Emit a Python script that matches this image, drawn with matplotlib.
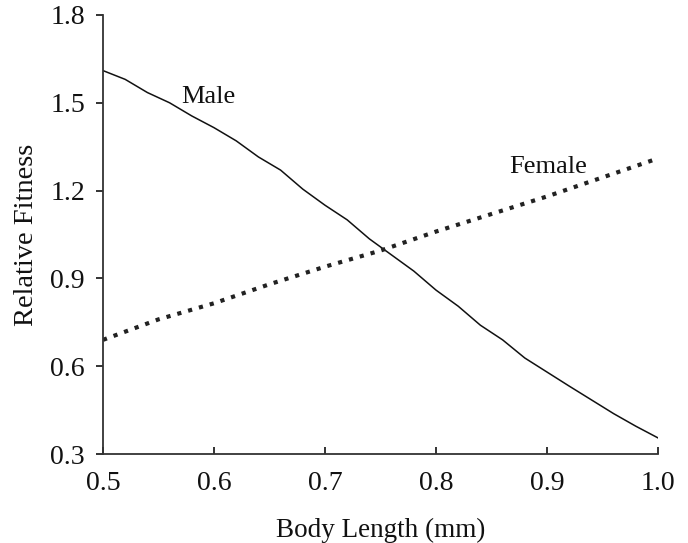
#!/usr/bin/env python3

import matplotlib
matplotlib.use('Agg')
import matplotlib.pyplot as plt

# Body length (mm) and relative fitness
male_x = [0.50, 0.52, 0.54, 0.56, 0.58, 0.60, 0.62, 0.64, 0.66, 0.68, 0.70, 0.72, 0.74,
          0.76, 0.78, 0.80, 0.82, 0.84, 0.86, 0.88, 0.90, 0.92, 0.94, 0.96, 0.98, 1.00]
male_y = [1.61, 1.58, 1.535, 1.50, 1.455, 1.415, 1.37, 1.315, 1.27, 1.205, 1.15, 1.10, 1.035,
          0.98, 0.925, 0.86, 0.805, 0.74, 0.69, 0.628, 0.58, 0.532, 0.485, 0.438, 0.395, 0.355]

female_x = [0.50, 0.55, 0.60, 0.65, 0.70, 0.75, 0.80, 0.85, 0.90, 0.95, 1.00]
female_y = [0.69, 0.76, 0.815, 0.88, 0.94, 0.995, 1.06, 1.12, 1.18, 1.245, 1.31]

x_ticks = [0.5, 0.6, 0.7, 0.8, 0.9, 1.0]
y_ticks = [0.3, 0.6, 0.9, 1.2, 1.5, 1.8]

plt.rcParams['font.family'] = ['Liberation Serif', 'DejaVu Serif']

fig = plt.figure(figsize=(6.88, 5.43), dpi=100)
ax = fig.add_axes([0.1497, 0.1639, 0.8067, 0.8085])

ax.plot(male_x, male_y, color='#111111', lw=1.1)
ax.plot(female_x, female_y, color='#222222', lw=3.0, linestyle=(0, (1, 1.7)))

ax.text(0.595, 1.52, 'Male', fontsize=19, ha='center', va='center', color='#111111')
ax.text(0.901, 1.28, 'Female', fontsize=19, ha='center', va='center', color='#111111')

ax.set_xlim(0.5, 1.0)
ax.set_ylim(0.3, 1.8)
ax.set_xticks(x_ticks)
ax.set_xticklabels([f'{v:.1f}' for v in x_ticks])
ax.set_yticks(y_ticks)
ax.set_yticklabels([f'{v:.1f}' for v in y_ticks])

ax.spines['top'].set_visible(False)
ax.spines['right'].set_visible(False)
for s in ['left', 'bottom']:
    ax.spines[s].set_linewidth(1.3)
    ax.spines[s].set_color('#333333')

ax.tick_params(axis='x', direction='in', length=5, width=1.2, pad=12,
               labelsize=20, colors='#111111')
ax.tick_params(axis='y', direction='out', length=5, width=1.2, pad=8,
               labelsize=20, colors='#111111')

ax.set_xlabel('Body Length (mm)', fontsize=19.5, labelpad=16, color='#111111')
ax.set_ylabel('Relative Fitness', fontsize=20.5, labelpad=8, color='#111111')

fig.savefig('out.png', dpi=100)
